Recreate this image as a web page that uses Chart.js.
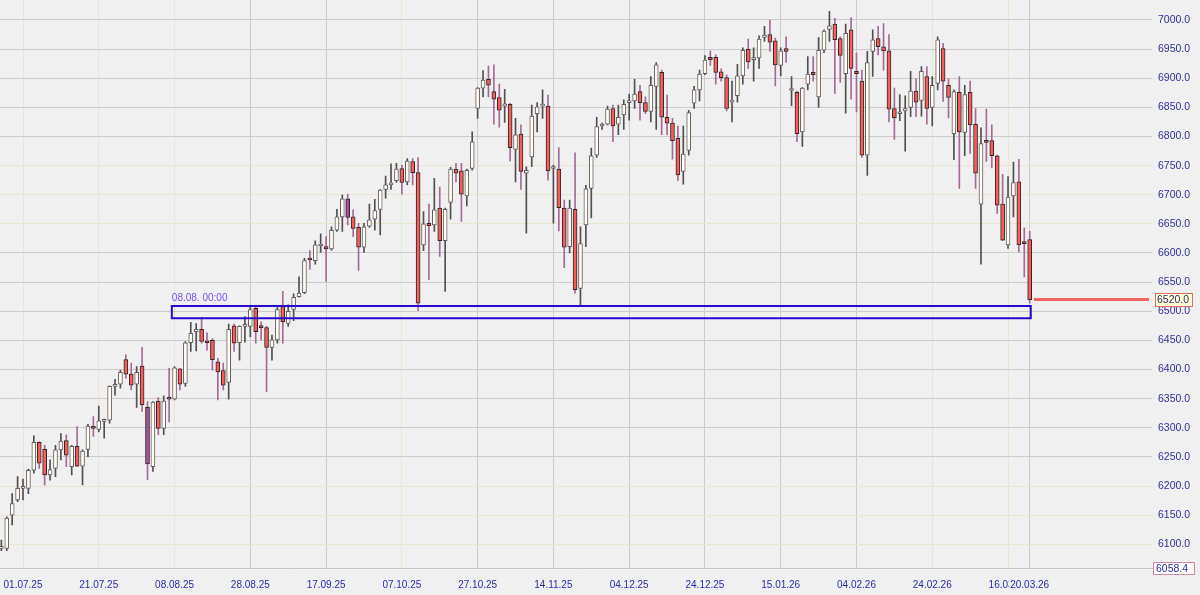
<!DOCTYPE html>
<html><head><meta charset="utf-8">
<script src="https://cdn.jsdelivr.net/npm/chart.js@4.4.1/dist/chart.umd.min.js"></script>
<style>html,body{margin:0;padding:0;background:#f0f0f0;}canvas{display:block;}</style>
</head><body>
<canvas id="c" width="1200" height="595"></canvas>
<script>
// ---- data (daily candles, index 0 = 25.06.25 ... 190 = 20.03.26) ----
const opens = [
6093,6093,6150,6176,6196,6196,6227,6275,6263,6219,
6230,6262,6278,6233,6268,6234,6263,6302,6297,6311,
6313,6371,6375,6417,6392,6375,6406,6335,6233,6346,
6299,6351,6349,6401,6376,6446,6465,6469,6447,6450,
6413,6398,6378,6475,6446,6474,6474,6505,6475,6472,
6438,6451,6508,6479,6503,6525,6532,6591,6587,6612,
6611,6607,6639,6662,6693,6662,6644,6610,6646,6658,
6675,6709,6717,6724,6745,6722,6757,6738,6614,6651,
6648,6677,6621,6687,6744,6741,6698,6745,6848,6883,
6898,6877,6867,6852,6855,6778,6804,6737,6765,6839,
6852,6852,6745,6744,6677,6611,6675,6539,6648,6711,
6768,6818,6821,6848,6821,6837,6858,6861,6877,6858,
6843,6886,6910,6833,6823,6797,6740,6776,6857,6880,
6908,6936,6936,6911,6901,6859,6870,6904,6950,6932,
6935,6970,6975,6964,6922,6951,6879,6876,6808,6890,
6910,6868,6948,6984,6993,6968,6908,6983,6912,6895,
6768,6946,6968,6954,6947,6848,6839,6844,6850,6878,
6862,6903,6850,6891,6951,6888,6805,6876,6807,6876,
6821,6684,6793,6793,6767,6684,6614,6698,6722,6618,
6623];
const highs = [
6107,6147,6187,6216,6212,6229,6286,6276,6270,6245,
6270,6290,6288,6270,6302,6262,6306,6319,6337,6315,
6372,6383,6399,6425,6411,6405,6438,6345,6345,6352,
6355,6402,6405,6402,6448,6481,6479,6489,6463,6453,
6419,6411,6478,6478,6475,6491,6508,6507,6482,6474,
6459,6508,6534,6511,6530,6559,6591,6604,6621,6633,
6628,6645,6675,6700,6701,6674,6651,6651,6684,6692,
6709,6732,6753,6754,6751,6762,6762,6764,6671,6684,
6728,6713,6677,6747,6754,6754,6744,6808,6884,6913,
6921,6923,6890,6881,6857,6831,6820,6748,6854,6858,
6880,6871,6751,6781,6691,6691,6772,6645,6716,6780,
6833,6823,6852,6854,6854,6863,6873,6898,6888,6868,
6903,6927,6914,6871,6831,6818,6818,6845,6886,6914,
6939,6947,6940,6916,6906,6895,6924,6952,6967,6952,
6973,6989,7000,6969,6952,6971,6903,6878,6884,6937,
6937,6970,6983,7015,7003,6971,6993,7004,6943,6914,
6946,6983,6989,6994,6975,6883,6872,6870,6912,6899,
6920,6920,6903,6971,6960,6899,6880,6903,6888,6895,
6848,6815,6847,6820,6768,6735,6731,6756,6761,6643,
6637];
const lows = [
6089,6089,6133,6173,6176,6187,6222,6230,6202,6210,
6216,6245,6233,6219,6233,6202,6250,6285,6293,6282,
6308,6356,6368,6385,6365,6335,6328,6211,6225,6288,
6288,6310,6348,6365,6371,6431,6432,6445,6433,6399,
6348,6365,6349,6431,6416,6447,6456,6445,6451,6362,
6416,6445,6445,6474,6484,6524,6530,6572,6581,6601,
6551,6605,6637,6637,6648,6628,6570,6601,6644,6639,
6631,6694,6709,6721,6701,6717,6717,6501,6604,6554,
6637,6594,6534,6658,6722,6654,6681,6742,6831,6868,
6868,6821,6816,6824,6758,6722,6709,6634,6748,6808,
6831,6725,6651,6638,6575,6600,6531,6508,6611,6660,
6764,6812,6820,6791,6803,6812,6828,6848,6828,6839,
6825,6812,6803,6803,6761,6724,6718,6768,6848,6861,
6906,6922,6890,6895,6844,6825,6859,6890,6917,6895,
6917,6963,6946,6887,6904,6927,6853,6791,6783,6880,
6895,6850,6944,6963,6874,6893,6840,6864,6842,6764,
6733,6903,6940,6914,6825,6795,6827,6775,6834,6834,
6835,6821,6818,6880,6860,6832,6760,6711,6767,6771,
6711,6581,6757,6746,6668,6621,6608,6662,6602,6559,
6514];
const closes = [
6095,6145,6170,6196,6199,6227,6275,6239,6219,6228,
6262,6277,6253,6268,6234,6260,6303,6299,6312,6312,
6371,6372,6395,6392,6373,6395,6339,6238,6344,6299,
6346,6349,6403,6375,6446,6462,6469,6448,6446,6417,
6396,6373,6469,6445,6474,6475,6503,6465,6472,6438,
6451,6503,6482,6500,6524,6531,6587,6588,6614,6613,
6607,6639,6662,6693,6661,6642,6610,6645,6657,6673,
6708,6717,6719,6744,6721,6758,6738,6514,6650,6647,
6674,6621,6675,6744,6737,6701,6742,6791,6883,6897,
6888,6864,6845,6856,6781,6803,6740,6742,6835,6851,
6853,6741,6746,6678,6610,6677,6537,6616,6710,6767,
6817,6819,6847,6818,6833,6855,6859,6873,6858,6843,
6888,6923,6833,6823,6793,6734,6770,6841,6880,6907,
6931,6932,6910,6901,6848,6860,6904,6948,6928,6933,
6967,6974,6962,6923,6947,6946,6880,6805,6883,6907,
6906,6948,6981,6990,6966,6939,6977,6917,6908,6768,
6927,6966,6954,6947,6847,6832,6840,6848,6878,6859,
6912,6848,6888,6966,6895,6867,6877,6808,6872,6820,
6737,6788,6790,6767,6682,6622,6696,6721,6614,6616,
6520];
const highlightedBars = [27, 64];
const xTickPos = [4,18,32,46,60,74,88,102,116,130,144,158,172,186,190];
const xTickLabels = ['01.07.25','21.07.25','08.08.25','28.08.25','17.09.25','07.10.25','27.10.25','14.11.25','04.12.25','24.12.25','15.01.26','04.02.26','24.02.26','16.03.26','20.03.26'];
const yTicks = [6100,6150,6200,6250,6300,6350,6400,6450,6500,6550,6600,6650,6700,6750,6800,6850,6900,6950,7000];
const lastPrice = 6520.0;
const bottomValue = 6058.4;
const topValue = 7034.3;
const zoneHigh = 6509, zoneLow = 6488;
const zoneFromBar = 31.5, zoneToBar = 190.2;
const zoneLabel = '08.08. 00:00';

// ---- styles ----
const BG = '#f0f0f0';
const GRID = '#cbcbcb', GRID_SOFT = '#e8e5d0';
const softX = new Set([4,18,32,74,172,186]);
const softY = new Set([6100,6150,6200,6650,6700,6750]);
const FONT = '"Liberation Sans", Arial, sans-serif';

const idx = opens.map((_, i) => i);
const isUp = i => closes[i] >= opens[i];
const isHi = i => highlightedBars.includes(i);

const bodyData = idx.map(i => ({x: i, y: [Math.min(opens[i], closes[i]), Math.max(opens[i], closes[i])]}));
const wickData = idx.map(i => ({x: i, y: [lows[i], highs[i]]}));

const overlay = {
  id: 'overlay',
  afterDatasetsDraw(chart) {
    const {ctx, scales: {x, y}, chartArea: ca} = chart;
    ctx.save();
    const x1 = x.getPixelForValue(zoneFromBar), x2 = x.getPixelForValue(zoneToBar);
    const y1 = y.getPixelForValue(zoneHigh), y2 = y.getPixelForValue(zoneLow);
    ctx.strokeStyle = '#2a08d2'; ctx.lineWidth = 2;
    ctx.strokeRect(x1, y1, x2 - x1, y2 - y1);
    ctx.font = '10px ' + FONT; ctx.fillStyle = '#7a50f2';
    ctx.textBaseline = 'alphabetic'; ctx.textAlign = 'left';
    ctx.fillText(zoneLabel, x1, y1 - 5);
    const yp = y.getPixelForValue(lastPrice);
    ctx.strokeStyle = '#f26464'; ctx.lineWidth = 3;
    ctx.beginPath(); ctx.moveTo(x.getPixelForValue(190.8), yp); ctx.lineTo(ca.right - 3, yp); ctx.stroke();
    ctx.restore();
  },
  afterDraw(chart) {
    const {ctx, scales: {y}} = chart;
    ctx.save();
    ctx.font = '10.5px ' + FONT; ctx.textBaseline = 'middle'; ctx.textAlign = 'left';
    const yp = Math.round(y.getPixelForValue(lastPrice));
    ctx.fillStyle = '#ffffd2'; ctx.fillRect(1155.5, yp - 6.5, 37, 13);
    ctx.strokeStyle = '#e06a6a'; ctx.lineWidth = 1; ctx.strokeRect(1155.5, yp - 6.5, 37, 13);
    ctx.fillStyle = '#2c2c80'; ctx.fillText(lastPrice.toFixed(1), 1157, yp + 0.5);
    const yb = Math.round(y.getPixelForValue(bottomValue));
    ctx.fillStyle = '#ffffff'; ctx.fillRect(1153.5, yb - 6.5, 41, 12);
    ctx.strokeStyle = '#c88ab0'; ctx.strokeRect(1153.5, yb - 6.5, 41, 12);
    ctx.fillStyle = '#2a2a9a'; ctx.fillText(bottomValue.toFixed(1), 1156, yb);
    ctx.restore();
  }
};

new Chart(document.getElementById('c'), {
  type: 'bar',
  data: {
    datasets: [
      {
        label: 'body', data: bodyData, order: 0, grouped: false,
        barThickness: 4, minBarLength: 2, borderWidth: 1, borderSkipped: false,
        backgroundColor: idx.map(i => isHi(i) ? '#a4509e' : (isUp(i) ? '#fffff0' : '#f65c5c')),
        borderColor: idx.map(i => isUp(i) ? '#6a5a66' : '#2e2626')
      },
      {
        label: 'wick', data: wickData, order: 1, grouped: false,
        barThickness: 1, borderWidth: 0,
        backgroundColor: idx.map(i => isUp(i) ? '#505050' : '#a46a96')
      }
    ]
  },
  options: {
    responsive: false, animation: false, events: [],
    layout: {padding: 0},
    plugins: {legend: {display: false}, tooltip: {enabled: false}},
    scales: {
      x: {
        type: 'linear', position: 'bottom', min: -0.25, max: 212.6, offset: false,
        afterBuildTicks: a => { a.ticks = xTickPos.map(v => ({value: v})); },
        afterFit: a => { a.height = 26.5; a.paddingLeft = 0; a.paddingRight = 0; },
        ticks: {
          autoSkip: false, maxRotation: 0, minRotation: 0, padding: 11,
          font: {family: FONT, size: 10}, color: '#2a2aae',
          callback: (v, i) => xTickLabels[i],
          showLabelBackdrop: true, backdropColor: BG, backdropPadding: {left: 1, right: 1, top: 0, bottom: 0}
        },
        grid: {offset: false, color: c => softX.has(c.tick && c.tick.value) ? GRID_SOFT : GRID, drawTicks: false, lineWidth: 1},
        border: {display: true, color: '#c6c6c6'}
      },
      y: {
        position: 'right', min: bottomValue, max: topValue,
        afterBuildTicks: a => { a.ticks = yTicks.map(v => ({value: v})); },
        afterFit: a => { a.width = 48; a.paddingTop = 0; a.paddingBottom = 0; },
        ticks: {padding: 6, font: {family: FONT, size: 10.5}, color: '#303096', callback: v => Number(v).toFixed(1)},
        grid: {color: c => softY.has(c.tick && c.tick.value) ? GRID_SOFT : GRID, drawTicks: false, lineWidth: 1},
        border: {display: false}
      }
    }
  },
  plugins: [overlay]
});
</script>
</body></html>
